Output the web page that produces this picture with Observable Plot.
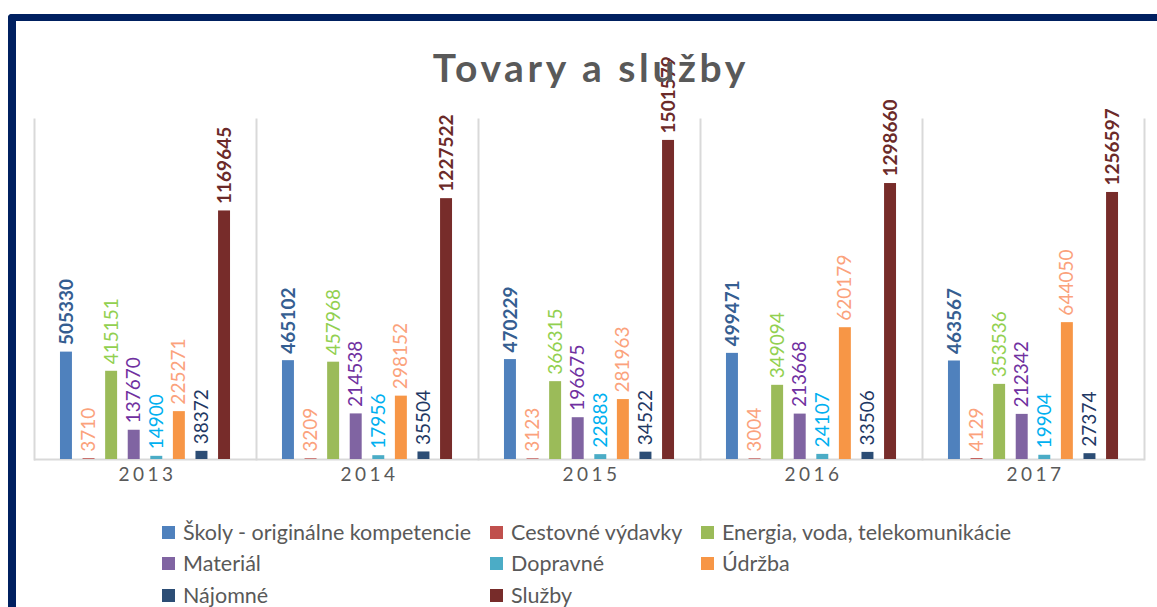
<!DOCTYPE html>
<html><head><meta charset="utf-8">
<script src="https://cdn.jsdelivr.net/npm/d3@7"></script>
<script src="https://cdn.jsdelivr.net/npm/@observablehq/plot@0.6"></script>
<style>
body{margin:0;background:#fff;width:1157px;height:607px;overflow:hidden;position:relative;font-family:Lato,sans-serif;}
#frame{position:absolute;left:8px;top:14px;width:1300px;height:700px;border-left:8px solid #002060;border-top:7px solid #002060;border-top-left-radius:4px;box-sizing:border-box;}
#chart{position:absolute;left:0;top:0;}
#chart svg{overflow:visible;}
#title{position:absolute;left:0;width:1178px;top:48px;text-align:center;font-family:Lato,sans-serif;font-weight:bold;font-size:39px;line-height:39px;letter-spacing:3.6px;padding-left:3.6px;box-sizing:border-box;color:#595959;}
.item{position:absolute;height:24px;display:flex;align-items:center;font-size:21.5px;color:#595959;white-space:nowrap;}
.sw{width:13px;height:13px;margin-right:8px;flex:none;}
[aria-label="fx-axis tick label"]{letter-spacing:3.5px;}
</style>
</head><body>
<div id="frame"></div>
<div id="chart"></div>
<div id="title">Tovary a služby</div>
<div id="legend"></div>
<script>
const years = ["2013", "2014", "2015", "2016", "2017"];
const categories = ["Školy - originálne kompetencie", "Cestovné výdavky", "Energia, voda, telekomunikácie", "Materiál", "Dopravné", "Údržba", "Nájomné", "Služby"];

const skoly     = [505330, 465102, 470229, 499471, 463567];
const cestovne  = [3710, 3209, 3123, 3004, 4129];
const energia   = [415151, 457968, 366315, 349094, 353536];
const material  = [137670, 214538, 196675, 213668, 212342];
const dopravne  = [14900, 17956, 22883, 24107, 19904];
const udrzba    = [225271, 298152, 281963, 620179, 644050];
const najomne   = [38372, 35504, 34522, 33506, 27374];
const sluzby    = [1169645, 1227522, 1501579, 1298660, 1256597];

const series = [skoly, cestovne, energia, material, dopravne, udrzba, najomne, sluzby];

const barColors   = ["#4F81BD", "#C0504D", "#9BBB59", "#8064A2", "#4BACC6", "#F79646", "#2C4D75", "#772C2A"];
const labelColors = ["#355E91", "#FBA27C", "#92D050", "#7030A0", "#00B0F0", "#FBA27C", "#1F3864", "#6B2A29"];
const labelBold   = [true, false, false, false, false, false, false, true];

const data = [];
years.forEach((yr, j) => categories.forEach((c, i) => data.push({year: yr, cat: c, value: series[i][j]})));

const textMarks = categories.map((c, i) =>
  Plot.text(data.filter(d => d.cat === c), {
    fx: "year", x: "cat", y: "value", text: d => String(d.value),
    rotate: -90, textAnchor: "start", dy: -7,
    fill: labelColors[i], fontSize: 19, fontWeight: labelBold[i] ? "bold" : "normal"
  })
);

const chart = Plot.plot({
  width: 1157, height: 500,
  marginLeft: 34, marginRight: 13, marginTop: 119, marginBottom: 41,
  style: {fontFamily: "Lato, sans-serif", background: "transparent", overflow: "visible"},
  fx: {domain: years, padding: 0, label: null, axis: null},
  x: {domain: categories, paddingInner: 0.47, paddingOuter: 1.15, round: false, axis: null},
  y: {domain: [0, 1600000], axis: null},
  color: {domain: categories, range: barColors},
  marks: [
    Plot.frame({anchor: "left", stroke: "#d9d9d9", strokeWidth: 2}),
    Plot.frame({anchor: "right", stroke: "#d9d9d9", strokeWidth: 2, facet: "super"}),
    Plot.ruleY([0], {stroke: "#d9d9d9", strokeWidth: 2}),
    Plot.barY(data, {fx: "year", x: "cat", y: "value", fill: "cat"}),
    Plot.axisFx({anchor: "bottom", tickSize: 0, tickPadding: 8, fontSize: 19, fill: "#595959", label: null, dx: 2}),
    ...textMarks
  ]
});
document.getElementById("chart").appendChild(chart);

const legend = document.getElementById("legend");
const colX = [162, 490, 701];
const rowY = [532, 563, 595];
categories.forEach((c, i) => {
  const item = document.createElement("div");
  item.className = "item";
  item.style.left = colX[i % 3] + "px";
  item.style.top = (rowY[Math.floor(i / 3)] - 12) + "px";
  const sw = document.createElement("span");
  sw.className = "sw";
  sw.style.background = barColors[i];
  const t = document.createElement("span");
  t.textContent = c;
  item.appendChild(sw);
  item.appendChild(t);
  legend.appendChild(item);
});
</script>
</body></html>
